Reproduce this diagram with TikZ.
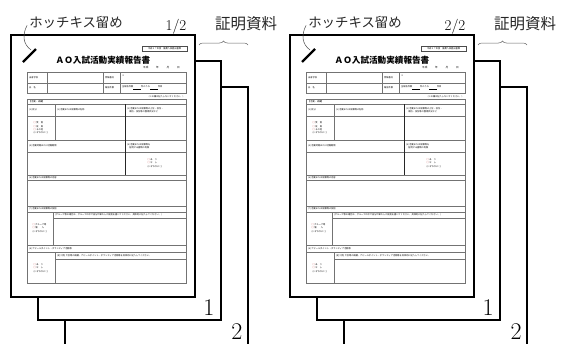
\documentclass[tikz,border=0pt]{standalone}
\usepackage{fontspec}
\newfontfamily\jp{Noto Sans CJK JP}
\usetikzlibrary{decorations.pathreplacing}
\newcommand\ckbox{\textcolor{red!70!black}{□}}

\begin{document}
\begin{tikzpicture}[x=1pt,y=-1pt,
    sheet/.style={draw=black,line width=1.8pt,fill=white},
    gridline/.style={draw=black!55,line width=0.4pt},
    darkline/.style={draw=black!85,line width=0.7pt},
    formtext/.style={inner sep=0pt,anchor=west,align=left,font=\jp\fontsize{2.2}{3.4}\selectfont},
    checks/.style={formtext,anchor=center,align=left},
    formtitle/.style={inner sep=0pt,font=\jp\bfseries\fontsize{8.6}{9}\selectfont},
    jplabel/.style={inner sep=0pt,text=black!85,font=\jp\fontsize{13.4}{13.4}\selectfont},
    pagenum/.style={inner sep=0pt,font=\fontsize{24}{24}\selectfont},
    staple/.style={draw=black,line width=2.2pt},
    leader/.style={draw=black!70,line width=0.5pt},
    proofbrace/.style={draw=black!60,line width=0.5pt,decorate,decoration={brace,amplitude=4pt}}]
    \clip(0, 0)rectangle(564, 343);
    \foreach \dx/\n in {0/1,279/2}{
    \begin{scope}[xshift=\dx pt]
        % stacked sheets
        \draw[sheet](65, 87)rectangle(248, 360);
        \draw[sheet](38, 61)rectangle(221, 320);
        \draw[sheet](11, 35)rectangle(195, 297);
        \node[pagenum](one-\n)at(209, 308){1};
        \node[pagenum](two-\n)at(237, 331.5){2};
        % head of the form
        \node[formtext,anchor=center,draw=black!70,line width=0.3pt,minimum width=45pt,minimum height=5pt](kind-\n)at(164.5, 48.5){平成２７年度　推薦入試提出書類};
        \node[formtitle](title-\n)at(103, 60){ＡＯ入試活動実績報告書};
        \node[formtext,font=\jp\fontsize{2.6}{3}\selectfont](date-\n)at(143, 68){平成　　　年　　　月　　　日};
        \draw[gridline](27, 72)rectangle(186, 93);
        \draw[gridline](27, 83)--(186, 83);
        \foreach \cx in {47,103,120}
            \draw[gridline](\cx, 72)--(\cx, 93);
        \node[formtext](school-\n)at(29, 77.5){出身学校};
        \node[formtext](name-\n)at(29, 88){氏　名};
        \node[formtext](exam-\n)at(105, 77.5){受験番号};
        \node[formtext](count-\n)at(105, 88){報告件数};
        \node[formtext](mark-\n)at(122, 76){※};
        \node[formtext](total-\n)at(122, 88){全報告件数\underline{\hspace{8pt}}件のうち\underline{\hspace{8pt}}件目};
        \node[formtext,anchor=east](note-\n)at(185, 97){（※の欄は記入しないでください。）};
        % body of the form
        \draw[gridline](27, 99)rectangle(186, 283);
        \foreach \ry in {104,116,140,152,175,180,206,212,245,252}
            \draw[gridline](27, \ry)--(186, \ry);
        \draw[gridline](53, 218)--(186, 218);
        \draw[gridline](55, 259)--(186, 259);
        \draw[gridline](55, 104)--(55, 140);
        \draw[darkline](125, 104)--(125, 175);
        \draw[gridline](53, 212)--(53, 245);
        \draw[gridline](55, 252)--(55, 283);
        \node[formtext](head-\n)at(29, 101.5){【活動・成績】};
        \node[formtext](f1-\n)at(29, 110){(1) 区分};
        \node[formtext](f2-\n)at(57, 110){(2) 活動または役職等の名称};
        \node[formtext](f3-\n)at(127, 110){(3) 活動または役職等の上位・役位・\\\quad 順位・役位等の獲得状況など};
        \node[checks](c1-\n)at(41, 128){\ckbox\ 受　賞\\\ckbox\ 役　員\\\ckbox\ その他\\(いずれかに○)};
        \node[formtext](f4-\n)at(29, 146){(4) 活動時期または活動期間};
        \node[formtext](f5-\n)at(127, 146){(5) 活動または役職等を\\\quad 証明する書類の有無};
        \node[checks](c2-\n)at(155, 163){\ckbox\ あ　り\\\ckbox\ な　し\\(いずれかに○)};
        \node[formtext](f6-\n)at(29, 177.5){(6) 活動または役職等の内容};
        \node[formtext](f7-\n)at(29, 209){(7) 活動または役職等の役割};
        \node[formtext](f7a-\n)at(55, 215){(グループ等の場合は、グループの中で自分が果たした役割を書いてください。具体的に記入してください。)};
        \node[checks](c3-\n)at(40, 228){\ckbox\ グループ等\\\ckbox\ 個　　人\\(いずれかに○)};
        \node[formtext](f8-\n)at(29, 248.5){(8) アピールポイント・ボランティア活動等};
        \node[formtext](f8a-\n)at(57, 255.5){(記入例) 大会等の概要、アピールポイント・ボランティア活動等を具体的に記入してください。};
        \node[checks](c4-\n)at(41, 268){\ckbox\ あ　り\\\ckbox\ な　し\\(いずれかに○)};
        % staple, labels
        \coordinate(staple top-\n)at(36, 49);
        \coordinate(staple bot-\n)at(23, 62);
        \coordinate(staple tip-\n)at(31, 50);
        \draw[staple](staple bot-\n)--(staple top-\n);
        \node[jplabel](hotch-\n)at(76, 22){ホッチキス留め};
        \draw[leader]([shift={(-2,-3)}]hotch-\n.south west) .. controls (22, 35) and (23, 44) .. (staple tip-\n);
        \node[pagenum,font=\fontsize{15}{15}\selectfont](frac-\n)at(176, 27){\n/2};
        \node[jplabel,font=\jp\fontsize{15.5}{15.5}\selectfont](proof-\n)at(246, 24){証明資料};
        \coordinate(brace l-\n)at(199, 45);
        \coordinate(brace r-\n)at(248, 45);
        \draw[proofbrace](brace l-\n)--(brace r-\n);
    \end{scope}
    }
\end{tikzpicture}
\end{document}
